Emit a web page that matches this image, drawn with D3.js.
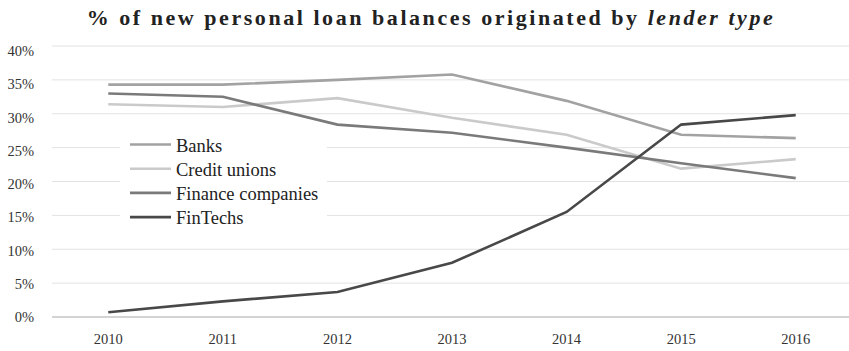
<!doctype html>
<html lang="en">
<head>
  <meta charset="utf-8">
  <title>Personal loan balances by lender type</title>
  <script src="https://d3js.org/d3.v7.min.js"></script>
  <style>
    body { margin: 0; background: #fff; }
  </style>
</head>
<body>
  <div id="chart"></div>
  <script type="text/javascript">

    var width = 849, height = 351;
    var serif = '"Liberation Serif", "DejaVu Serif", serif';

    // data
    var years = ['2010','2011','2012','2013','2014','2015','2016'];
    var banks = [34.3, 34.3, 35.0, 35.8, 31.9, 26.9, 26.4];
    var creditUnions = [31.4, 31.0, 32.3, 29.4, 26.9, 21.9, 23.3];
    var financeCos = [33.0, 32.5, 28.4, 27.2, 25.0, 22.7, 20.5];
    var finTechs = [0.7, 2.3, 3.7, 8.0, 15.5, 28.4, 29.8];
    var yTicks = [0, 5, 10, 15, 20, 25, 30, 35, 40];

    var series = [
      { name: 'Banks', values: banks, color: '#a2a2a2' },
      { name: 'Credit unions', values: creditUnions, color: '#cacaca' },
      { name: 'Finance companies', values: financeCos, color: '#7a7a7a' },
      { name: 'FinTechs', values: finTechs, color: '#484848' }
    ];

    var x = d3.scalePoint()
              .domain(years)
              .range([51, 853])
              .padding(0.5);

    var y = d3.scaleLinear()
              .domain([0, 40])
              .range([317, 46]);

    // the tick labels sit on a slightly tighter scale than the gridlines
    var yLabel = d3.scaleLinear()
                   .domain([0, 40])
                   .range([322, 56]);

    var svg = d3.select('#chart')
                .append('svg')
                .attr('width', width)
                .attr('height', height)
                .attr('font-family', serif);

    // title
    var title = svg.append('text')
                   .attr('x', 431)
                   .attr('y', 25)
                   .attr('text-anchor', 'middle')
                   .attr('font-family', serif)
                   .attr('font-size', 22)
                   .attr('font-weight', 'bold')
                   .attr('letter-spacing', 2.55)
                   .attr('fill', '#222');
    title.append('tspan').text('% of new personal loan balances originated by ');
    title.append('tspan').attr('font-style', 'italic').text('lender type');

    // gridlines
    svg.selectAll('.grid')
       .data(yTicks.slice(1))
       .enter()
       .append('line')
       .attr('class', 'grid')
       .attr('x1', 52)
       .attr('x2', 853)
       .attr('y1', function(d) { return y(d); })
       .attr('y2', function(d) { return y(d); })
       .attr('stroke', '#e2e2e2')
       .attr('stroke-width', 1);

    // baseline
    svg.append('line')
       .attr('x1', 52).attr('x2', 853)
       .attr('y1', y(0)).attr('y2', y(0))
       .attr('stroke', '#a8a8a8')
       .attr('stroke-width', 1.2);

    // y labels
    svg.selectAll('.ylab')
       .data(yTicks)
       .enter()
       .append('text')
       .attr('class', 'ylab')
       .attr('x', 34)
       .attr('y', function(d) { return yLabel(d); })
       .attr('text-anchor', 'end')
       .attr('font-family', serif)
       .attr('font-size', 14.5)
       .attr('fill', '#333')
       .text(function(d) { return d + '%'; });

    // x labels
    svg.selectAll('.xlab')
       .data(years)
       .enter()
       .append('text')
       .attr('class', 'xlab')
       .attr('x', function(d) { return x(d); })
       .attr('y', 344)
       .attr('text-anchor', 'middle')
       .attr('font-family', serif)
       .attr('font-size', 14.5)
       .attr('fill', '#333')
       .text(function(d) { return d; });

    var line = d3.line()
                 .x(function(d, i) { return x(years[i]); })
                 .y(function(d) { return y(d); });

    // legend box sits over the gridlines
    svg.append('rect')
       .attr('x', 120).attr('y', 134)
       .attr('width', 207).attr('height', 94)
       .attr('fill', '#fff');

    svg.selectAll('.series')
       .data(series)
       .enter()
       .append('path')
       .attr('class', 'series')
       .attr('d', function(d) { return line(d.values); })
       .attr('fill', 'none')
       .attr('stroke', function(d) { return d.color; })
       .attr('stroke-width', 2.6);

    var legend = svg.selectAll('.legend')
                    .data(series)
                    .enter()
                    .append('g')
                    .attr('class', 'legend')
                    .attr('transform', function(d, i) { return 'translate(130,' + (144.5 + i * 24.2) + ')'; });

    legend.append('line')
          .attr('x1', 0).attr('x2', 41)
          .attr('y1', 0).attr('y2', 0)
          .attr('stroke', function(d) { return d.color; })
          .attr('stroke-width', 2.6);

    legend.append('text')
          .attr('x', 46)
          .attr('y', 7)
          .attr('font-family', serif)
          .attr('font-size', 18.5)
          .attr('fill', '#222')
          .text(function(d) { return d.name; });

  </script>
</body>
</html>
